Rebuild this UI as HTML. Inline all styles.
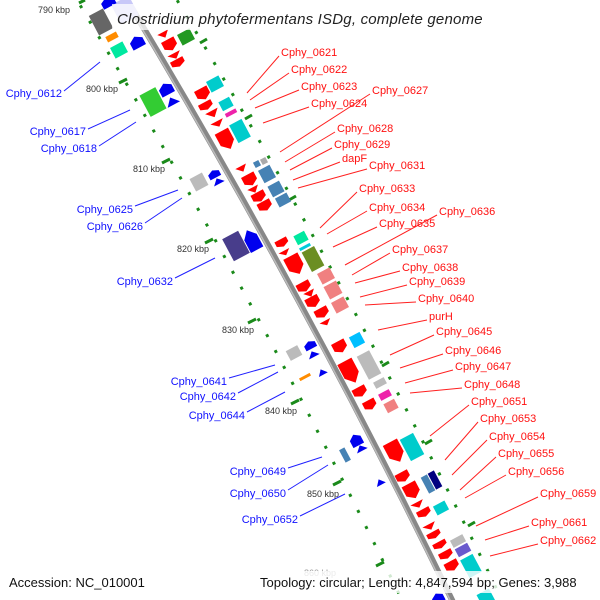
<!DOCTYPE html>
<html><head><meta charset="utf-8"><style>
html,body{margin:0;padding:0;background:#fff;}
svg{display:block;}
text{font-family:"Liberation Sans","DejaVu Sans",sans-serif;}
</style></head><body>
<svg width="600" height="600" viewBox="0 0 600 600" xmlns="http://www.w3.org/2000/svg">
<defs>
<path id="ad" d="M-.5 -.5H.5V.15L0 .5L-.5 .15Z"/>
<path id="au" d="M-.5 .5H.5V-.15L0 -.5L-.5 -.15Z"/>
<path id="td" d="M-.5 -.5H.5L0 .5Z"/>
<path id="tu" d="M-.5 .5H.5L0 -.5Z"/>
<rect id="r" x="-.5" y="-.5" width="1" height="1"/>
<polyline id="bb" fill="none" points="121,-10 127,0 156.7,50 186,100 214.7,150 243,200 270.8,250 298.1,300 325,350 351.4,400 377.2,450 402.7,500 427.6,550 452,600 456.9,610"/>
</defs>
<!-- dot rings -->
<g stroke="#1a8a1a" stroke-width="3" fill="none">
<use href="#bb" transform="translate(-50,0)" stroke-dasharray="3 15"/>
<use href="#bb" transform="translate(50,0)" stroke-dasharray="3 15" stroke-dashoffset="6"/>
</g>
<!-- ticks -->
<g stroke="#1a8a1a" stroke-width="3">
<line x1="79" y1="3" x2="85" y2="0"/>
<line x1="119" y1="83" x2="127" y2="79"/>
<line x1="162" y1="163" x2="170" y2="159"/>
<line x1="205" y1="243" x2="213" y2="239"/>
<line x1="248" y1="323" x2="256" y2="319"/>
<line x1="291" y1="404" x2="299" y2="400"/>
<line x1="333" y1="485" x2="341" y2="481"/>
<line x1="376" y1="566" x2="384" y2="562"/>
<line x1="200" y1="43" x2="207" y2="39"/>
<line x1="245" y1="119" x2="252" y2="115"/>
<line x1="289" y1="200" x2="296" y2="196"/>
<line x1="322" y1="278" x2="329" y2="274"/>
<line x1="382" y1="366" x2="389" y2="362"/>
<line x1="425" y1="444" x2="432" y2="440"/>
<line x1="468" y1="526" x2="475" y2="522"/>
</g>
<!-- backbone -->
<use href="#bb" stroke="#888" stroke-width="6"/>
<use href="#bb" transform="translate(-2,0)" stroke="#bbb" stroke-width="1.5"/>

<!-- left side genes -->
<g>
<use href="#r" fill="#c8c8f8" transform="translate(125,10) rotate(-28) scale(20,22)"/>
<use href="#au" fill="#0000ee" transform="translate(108,2) rotate(-28) scale(14,10)"/>
<use href="#r" fill="#666" transform="translate(101,22) rotate(-28) scale(16,22)"/>
<use href="#r" fill="#ff8c00" transform="translate(112,37) rotate(-28) scale(12,6)"/>
<use href="#r" fill="#00e8a0" transform="translate(119,50) rotate(-28) scale(14,12)"/>
<use href="#au" fill="#0000ee" transform="translate(137,42) rotate(-28) scale(14,12)"/>
<use href="#r" fill="#33cc33" transform="translate(153,102) rotate(-28) scale(18,24)"/>
<use href="#au" fill="#0000ee" transform="translate(166,89) rotate(-28) scale(14,12)"/>
<use href="#tu" fill="#0000ee" transform="translate(172,101) rotate(-28) scale(14,8)"/>
<use href="#r" fill="#bbb" transform="translate(199,182) rotate(-28) scale(14,14)"/>
<use href="#au" fill="#0000ee" transform="translate(214,174) rotate(-28) scale(12,8)"/>
<use href="#tu" fill="#0000ee" transform="translate(218,181) rotate(-28) scale(12,6)"/>
<use href="#r" fill="#483d8b" transform="translate(236,246) rotate(-28) scale(18,25)"/>
<use href="#au" fill="#0000ee" transform="translate(252,240) rotate(-28) scale(14,22)"/>
<use href="#r" fill="#bbb" transform="translate(294,353) rotate(-28) scale(13,11)"/>
<use href="#au" fill="#0000ee" transform="translate(310,345) rotate(-28) scale(12,8)"/>
<use href="#tu" fill="#0000ee" transform="translate(313,354) rotate(-28) scale(12,6)"/>
<use href="#r" fill="#ff8c00" transform="translate(305,377) rotate(-28) scale(12,3)"/>
<use href="#tu" fill="#0000ee" transform="translate(322,372) rotate(-28) scale(10,6)"/>
<use href="#au" fill="#0000ee" transform="translate(356,440) rotate(-28) scale(12,12)"/>
<use href="#tu" fill="#0000ee" transform="translate(361,448) rotate(-28) scale(12,6)"/>
<use href="#r" fill="#4682b4" transform="translate(345,455) rotate(-28) scale(6,14)"/>
<use href="#tu" fill="#0000ee" transform="translate(380,482) rotate(-28) scale(10,6)"/>
<use href="#au" fill="#0000ee" transform="translate(438,598) rotate(-28) scale(12,10)"/>
</g>

<!-- right side genes -->
<g fill="red">
<use href="#td" transform="translate(164,35) rotate(-28) scale(12,6)"/>
<use href="#ad" transform="translate(170,45) rotate(-28) scale(14,12)"/>
<use href="#td" transform="translate(175,56) rotate(-28) scale(14,6)"/>
<use href="#ad" transform="translate(178,63) rotate(-28) scale(14,8)"/>
<use href="#ad" transform="translate(203,94) rotate(-28) scale(14,12)"/>
<use href="#ad" transform="translate(206,106) rotate(-28) scale(14,8)"/>
<use href="#td" transform="translate(213,114) rotate(-28) scale(14,7)"/>
<use href="#td" transform="translate(218,124) rotate(-28) scale(14,6)"/>
<use href="#ad" transform="translate(226,140) rotate(-28) scale(15,20)"/>
<use href="#td" transform="translate(242,169) rotate(-28) scale(12,6)"/>
<use href="#ad" transform="translate(250,180) rotate(-28) scale(14,12)"/>
<use href="#td" transform="translate(254,190) rotate(-28) scale(12,6)"/>
<use href="#ad" transform="translate(259,197) rotate(-28) scale(14,10)"/>
<use href="#ad" transform="translate(265,206) rotate(-28) scale(14,10)"/>
<use href="#ad" transform="translate(282,243) rotate(-28) scale(13,8)"/>
<use href="#td" transform="translate(285,253) rotate(-28) scale(12,5)"/>
<use href="#ad" transform="translate(295,265) rotate(-28) scale(16,20)"/>
<use href="#ad" transform="translate(304,287) rotate(-28) scale(14,10)"/>
<use href="#td" transform="translate(310,294) rotate(-28) scale(12,6)"/>
<use href="#ad" transform="translate(313,302) rotate(-28) scale(14,11)"/>
<use href="#ad" transform="translate(322,313) rotate(-28) scale(14,10)"/>
<use href="#td" transform="translate(326,323) rotate(-28) scale(12,5)"/>
<use href="#ad" transform="translate(340,347) rotate(-28) scale(14,12)"/>
<use href="#ad" transform="translate(350,372) rotate(-28) scale(16,24)"/>
<use href="#ad" transform="translate(360,392) rotate(-28) scale(14,10)"/>
<use href="#ad" transform="translate(370,405) rotate(-28) scale(13,10)"/>
<use href="#ad" transform="translate(395,452) rotate(-28) scale(16,22)"/>
<use href="#ad" transform="translate(403,477) rotate(-28) scale(14,10)"/>
<use href="#ad" transform="translate(412,491) rotate(-28) scale(15,16)"/>
<use href="#td" transform="translate(418,505) rotate(-28) scale(14,6)"/>
<use href="#ad" transform="translate(424,513) rotate(-28) scale(14,8)"/>
<use href="#td" transform="translate(430,527) rotate(-28) scale(14,6)"/>
<use href="#ad" transform="translate(434,535) rotate(-28) scale(14,7)"/>
<use href="#ad" transform="translate(440,545) rotate(-28) scale(14,7)"/>
<use href="#ad" transform="translate(446,555) rotate(-28) scale(14,8)"/>
<use href="#ad" transform="translate(452,566) rotate(-28) scale(14,10)"/>
</g>
<g>
<use href="#r" fill="#229922" transform="translate(186,37) rotate(-28) scale(14,12)"/>
<use href="#r" fill="#00cccc" transform="translate(215,84) rotate(-28) scale(14,12)"/>
<use href="#r" fill="#00cccc" transform="translate(226,104) rotate(-28) scale(12,10)"/>
<use href="#r" fill="#ee22aa" transform="translate(231,113) rotate(-28) scale(12,4)"/>
<use href="#r" fill="#00cccc" transform="translate(240,131) rotate(-28) scale(14,20)"/>
<use href="#r" fill="#aaa" transform="translate(264,161) rotate(-28) scale(6,6)"/>
<use href="#r" fill="#4682b4" transform="translate(257,164) rotate(-28) scale(6,6)"/>
<use href="#r" fill="#4682b4" transform="translate(267,174) rotate(-28) scale(13,14)"/>
<use href="#r" fill="#4682b4" transform="translate(276,189) rotate(-28) scale(13,12)"/>
<use href="#r" fill="#4682b4" transform="translate(283,200) rotate(-28) scale(13,10)"/>
<use href="#r" fill="#00e8a0" transform="translate(301,238) rotate(-28) scale(12,10)"/>
<use href="#r" fill="#00ccdd" transform="translate(305,247) rotate(-28) scale(12,3)"/>
<use href="#r" fill="#6b8e23" transform="translate(313,259) rotate(-28) scale(14,22)"/>
<use href="#r" fill="#f08080" transform="translate(326,276) rotate(-28) scale(14,12)"/>
<use href="#r" fill="#f08080" transform="translate(333,290) rotate(-28) scale(14,14)"/>
<use href="#r" fill="#f08080" transform="translate(340,305) rotate(-28) scale(14,12)"/>
<use href="#r" fill="#00bfff" transform="translate(357,340) rotate(-28) scale(12,12)"/>
<use href="#r" fill="#bbb" transform="translate(369,365) rotate(-28) scale(14,26)"/>
<use href="#r" fill="#bbb" transform="translate(380,383) rotate(-28) scale(12,7)"/>
<use href="#r" fill="#ee22aa" transform="translate(385,395) rotate(-28) scale(12,7)"/>
<use href="#r" fill="#f08080" transform="translate(391,406) rotate(-28) scale(12,10)"/>
<use href="#r" fill="#00cccc" transform="translate(412,447) rotate(-28) scale(15,24)"/>
<use href="#r" fill="#4682b4" transform="translate(428,484) rotate(-28) scale(7,18)"/>
<use href="#r" fill="#000080" transform="translate(435,480) rotate(-28) scale(7,18)"/>
<use href="#r" fill="#00cccc" transform="translate(441,508) rotate(-28) scale(13,10)"/>
<use href="#r" fill="#bbb" transform="translate(458,541) rotate(-28) scale(14,8)"/>
<use href="#r" fill="#6a5acd" transform="translate(463,550) rotate(-28) scale(14,9)"/>
<use href="#r" fill="#00cccc" transform="translate(471,566) rotate(-28) scale(14,20)"/>
<use href="#r" fill="#00cccc" transform="translate(486,598) rotate(-28) scale(14,14)"/>
</g>

<!-- label connectors -->
<g stroke="#ff2020" stroke-width="1">
<line x1="247" y1="93" x2="279" y2="56"/>
<line x1="250" y1="100" x2="289" y2="73"/>
<line x1="255" y1="108" x2="299" y2="90"/>
<line x1="263" y1="123" x2="309" y2="107"/>
<line x1="280" y1="152" x2="370" y2="94"/>
<line x1="285" y1="162" x2="335" y2="132"/>
<line x1="290" y1="170" x2="332" y2="148"/>
<line x1="293" y1="180" x2="340" y2="162"/>
<line x1="298" y1="188" x2="367" y2="169"/>
<line x1="320" y1="228" x2="357" y2="192"/>
<line x1="327" y1="234" x2="367" y2="211"/>
<line x1="333" y1="247" x2="377" y2="227"/>
<line x1="345" y1="265" x2="437" y2="215"/>
<line x1="352" y1="275" x2="390" y2="253"/>
<line x1="355" y1="283" x2="400" y2="271"/>
<line x1="360" y1="297" x2="407" y2="285"/>
<line x1="365" y1="305" x2="416" y2="302"/>
<line x1="378" y1="330" x2="427" y2="320"/>
<line x1="390" y1="355" x2="434" y2="335"/>
<line x1="400" y1="368" x2="443" y2="354"/>
<line x1="405" y1="383" x2="453" y2="370"/>
<line x1="410" y1="393" x2="462" y2="388"/>
<line x1="430" y1="436" x2="469" y2="405"/>
<line x1="445" y1="460" x2="478" y2="422"/>
<line x1="452" y1="475" x2="487" y2="440"/>
<line x1="460" y1="490" x2="496" y2="457"/>
<line x1="465" y1="498" x2="506" y2="475"/>
<line x1="476" y1="526" x2="538" y2="497"/>
<line x1="485" y1="540" x2="529" y2="526"/>
<line x1="490" y1="556" x2="538" y2="544"/>
</g>
<g stroke="#2020ff" stroke-width="1">
<line x1="64" y1="91" x2="100" y2="62"/>
<line x1="88" y1="129" x2="130" y2="110"/>
<line x1="99" y1="146" x2="136" y2="122"/>
<line x1="135" y1="206" x2="178" y2="190"/>
<line x1="145" y1="223" x2="182" y2="198"/>
<line x1="175" y1="278" x2="215" y2="258"/>
<line x1="229" y1="378" x2="275" y2="365"/>
<line x1="238" y1="393" x2="278" y2="372"/>
<line x1="247" y1="412" x2="285" y2="392"/>
<line x1="288" y1="468" x2="322" y2="457"/>
<line x1="288" y1="490" x2="328" y2="465"/>
<line x1="300" y1="516" x2="345" y2="494"/>
</g>

<!-- labels -->
<g fill="#ff1010" font-size="11">
<text x="281" y="56">Cphy_0621</text>
<text x="291" y="73">Cphy_0622</text>
<text x="301" y="90">Cphy_0623</text>
<text x="311" y="107">Cphy_0624</text>
<text x="372" y="94">Cphy_0627</text>
<text x="337" y="132">Cphy_0628</text>
<text x="334" y="148">Cphy_0629</text>
<text x="342" y="162">dapF</text>
<text x="369" y="169">Cphy_0631</text>
<text x="359" y="192">Cphy_0633</text>
<text x="369" y="211">Cphy_0634</text>
<text x="379" y="227">Cphy_0635</text>
<text x="439" y="215">Cphy_0636</text>
<text x="392" y="253">Cphy_0637</text>
<text x="402" y="271">Cphy_0638</text>
<text x="409" y="285">Cphy_0639</text>
<text x="418" y="302">Cphy_0640</text>
<text x="429" y="320">purH</text>
<text x="436" y="335">Cphy_0645</text>
<text x="445" y="354">Cphy_0646</text>
<text x="455" y="370">Cphy_0647</text>
<text x="464" y="388">Cphy_0648</text>
<text x="471" y="405">Cphy_0651</text>
<text x="480" y="422">Cphy_0653</text>
<text x="489" y="440">Cphy_0654</text>
<text x="498" y="457">Cphy_0655</text>
<text x="508" y="475">Cphy_0656</text>
<text x="540" y="497">Cphy_0659</text>
<text x="531" y="526">Cphy_0661</text>
<text x="540" y="544">Cphy_0662</text>
</g>
<g fill="#1010ff" font-size="11" text-anchor="end">
<text x="62" y="97">Cphy_0612</text>
<text x="86" y="135">Cphy_0617</text>
<text x="97" y="152">Cphy_0618</text>
<text x="133" y="213">Cphy_0625</text>
<text x="143" y="230">Cphy_0626</text>
<text x="173" y="285">Cphy_0632</text>
<text x="227" y="385">Cphy_0641</text>
<text x="236" y="400">Cphy_0642</text>
<text x="245" y="419">Cphy_0644</text>
<text x="286" y="475">Cphy_0649</text>
<text x="286" y="497">Cphy_0650</text>
<text x="298" y="523">Cphy_0652</text>
</g>
<g fill="#333" font-size="9">
<text x="38" y="13">790 kbp</text>
<text x="86" y="92">800 kbp</text>
<text x="133" y="172">810 kbp</text>
<text x="177" y="252">820 kbp</text>
<text x="222" y="333">830 kbp</text>
<text x="265" y="414">840 kbp</text>
<text x="307" y="497">850 kbp</text>
<text x="304" y="576" fill="#999">860 kbp</text>
</g>

<!-- title -->
<rect x="112" y="4" width="378" height="26" fill="#fff" fill-opacity="0.75"/>
<text x="117" y="24" font-size="15" font-style="italic" fill="#222" letter-spacing="0.2">Clostridium phytofermentans ISDg, complete genome</text>
<!-- footer -->
<rect x="0" y="571" width="600" height="22" fill="#fff" fill-opacity="0.8"/>
<text x="9" y="587" font-size="13" fill="#111">Accession: NC_010001</text>
<text x="260" y="587" font-size="13" fill="#111">Topology: circular; Length: 4,847,594 bp; Genes: 3,988</text>
</svg>
</body></html>
